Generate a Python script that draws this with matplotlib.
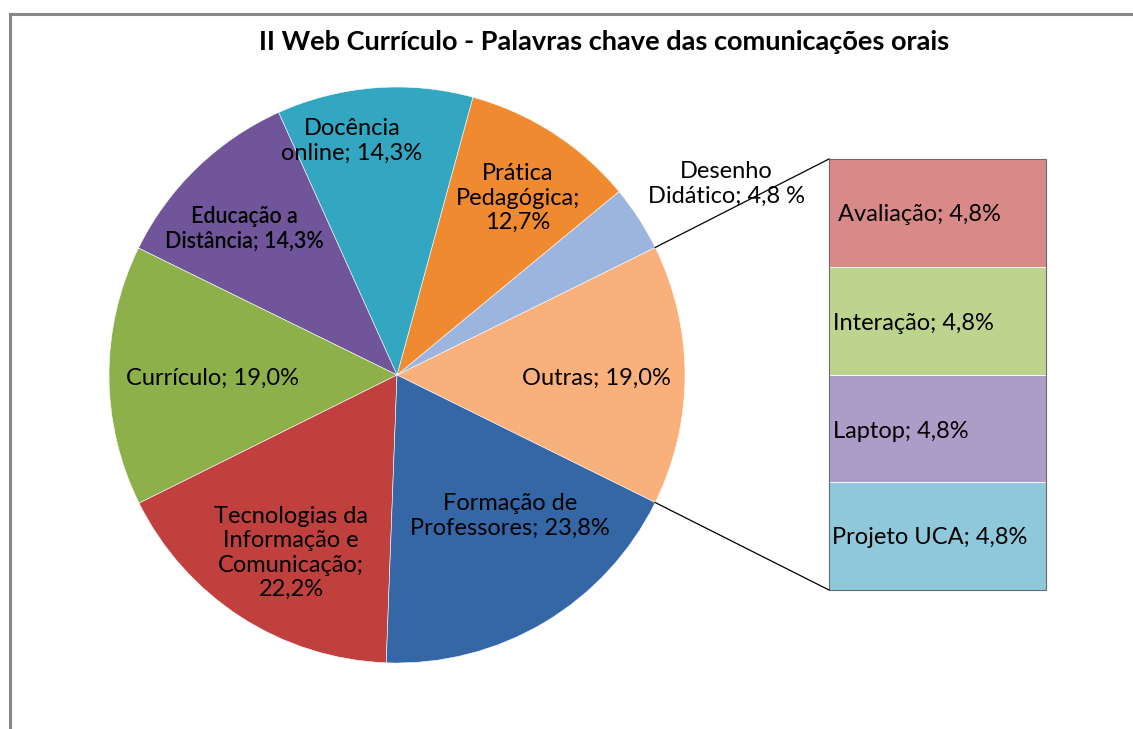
import numpy as np
import matplotlib
matplotlib.use("Agg")
from matplotlib import pyplot as plt
from matplotlib.patches import Rectangle

plt.rcParams['font.family'] = ['Lato', 'DejaVu Sans']

title = "II Web Currículo - Palavras chave das comunicações orais"

# pie slices, counter-clockwise starting with the combined "Outras" slice
pie_labels = ["Outras; 19,0%", "Desenho\nDidático; 4,8 %", "Prática\nPedagógica;\n12,7%",
              "Docência\nonline; 14,3%", "Educação a\nDistância; 14,3%", "Currículo; 19,0%",
              "Tecnologias da\nInformação e\nComunicação;\n22,2%",
              "Formação de\nProfessores; 23,8%"]
pie_values = [19.0, 4.8, 12.7, 14.3, 14.3, 19.0, 22.2, 23.8]
pie_colors = ["#f9b07a", "#9bb5de", "#f08a30", "#33a6c2", "#71559a", "#8db04a",
              "#c0403e", "#3566a6"]

# bar of "Outras", bottom to top
bar_labels = ["Projeto UCA; 4,8%", "Laptop; 4,8%", "Interação; 4,8%", "Avaliação; 4,8%"]
bar_values = [4.8, 4.8, 4.8, 4.8]
bar_colors = ["#8ec8da", "#ac9cc8", "#bcd48e", "#d98a88"]

W, H = 1133, 729
fig = plt.figure(figsize=(W / 100, H / 100), dpi=100)
ax = fig.add_axes([0, 0, 1, 1])
ax.set_xlim(0, W)
ax.set_ylim(0, H)
ax.set_aspect('equal')
ax.axis('off')

# frame (only top and left visible)
ax.plot([10, W], [H - 14, H - 14], color="#878787", lw=2.2)
ax.plot([10, 10], [0, H - 14], color="#878787", lw=2.2)

ax.text(604, H - 42, title, ha='center', va='center', fontsize=19.5, fontweight='bold')

cx, cy, r = 397, H - 375, 288
outras_angle = pie_values[0] / sum(pie_values) * 360
wedges, _ = ax.pie(pie_values, colors=pie_colors, startangle=-outras_angle / 2,
                   counterclock=True, center=(cx, cy), radius=r,
                   wedgeprops=dict(edgecolor='#ffffff', linewidth=0.4))
ax.set_xlim(0, W)
ax.set_ylim(0, H)

# bar of "Outras"
bx0, bx1 = 829, 1046
by0 = H - 590
scale = (590 - 159) / sum(bar_values)
bottom = by0
for v, c in zip(bar_values, bar_colors):
    ax.add_patch(Rectangle((bx0, bottom), bx1 - bx0, v * scale, facecolor=c,
                           edgecolor='#ffffff', lw=0.6))
    bottom += v * scale
ax.add_patch(Rectangle((bx0, by0), bx1 - bx0, bottom - by0, fill=False,
                       edgecolor='#6b6b6b', lw=0.8))

# connector lines
w0 = wedges[0]
for ang, yb in [(w0.theta2, bottom), (w0.theta1, by0)]:
    px = cx + r * np.cos(np.radians(ang))
    py = cy + r * np.sin(np.radians(ang))
    ax.plot([px, bx0], [py, yb], color='black', lw=0.9)

# labels
pie_pos = [(596, 378), (726, 184), (518, 198), (352, 141), (244, 229), (213, 378),
           (291, 553), (510, 516)]
for lab, (x, y) in zip(pie_labels, pie_pos):
    semi = lab.startswith("Educação")
    ax.text(x, H - y, lab, ha='center', va='center',
            fontsize=15.5 if semi else 17, fontweight='semibold' if semi else 'normal',
            linespacing=1.2, color='black')

bar_pos = [(832, 538), (833, 431), (833, 323), (838, 214)]
for lab, (x, y) in zip(bar_labels, bar_pos):
    ax.text(x, H - y, lab, ha='left', va='center', fontsize=17, color='black')

plt.savefig("out.png", dpi=100)
